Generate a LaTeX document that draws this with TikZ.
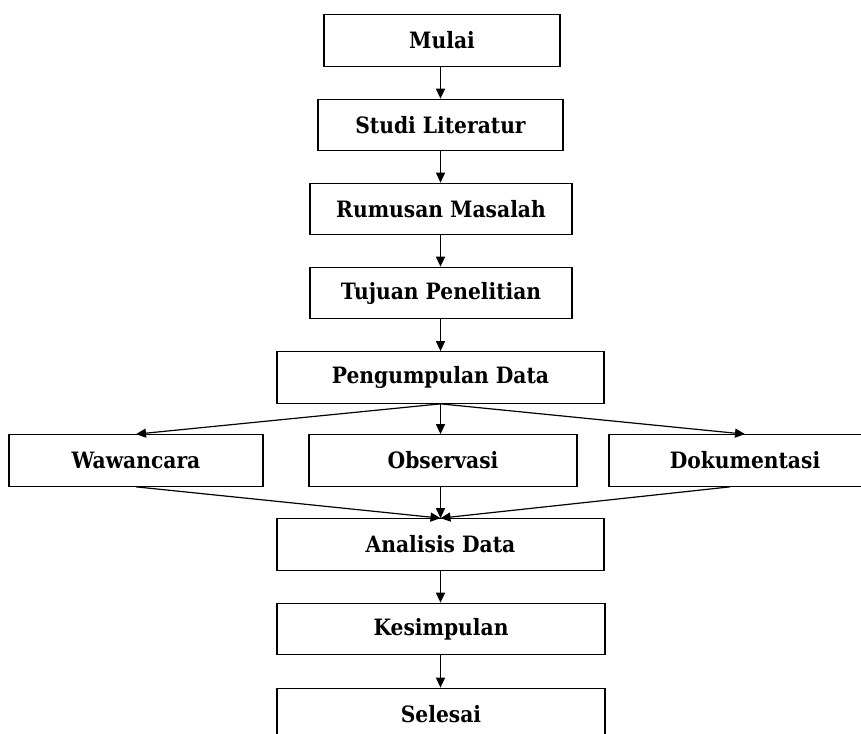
\documentclass[tikz,border=0pt]{standalone}
\usepackage{fontspec}
\newfontfamily\boxfont{DejaVu Serif}[FakeStretch=0.9]
\usetikzlibrary{arrows.meta,calc}
\begin{document}
\begin{tikzpicture}[x=1pt,y=-1pt,
  box/.style={draw, line width=1.2pt, inner sep=0pt, minimum height=51.5pt,
    font=\boxfont\bfseries\fontsize{22.5}{26}\selectfont},
  arr/.style={line width=1.2pt, -{Triangle[length=10pt,width=9pt]}},
  ln/.style={line width=1.2pt}]
\path[use as bounding box] (0,0) rectangle (861,733);
\begin{scope}
\clip (0,0) rectangle (861,733);
\node[box, minimum width=236pt] (mulai) at (442,40.5) {Mulai};
\node[box, minimum width=245pt] (studi) at (440.5,125) {Studi Literatur};
\node[box, minimum width=262pt] (rumusan) at (441,209) {Rumusan Masalah};
\node[box, minimum width=262pt] (tujuan) at (441,293) {Tujuan Penelitian};
\node[box, minimum width=327pt] (kumpul) at (440.5,377.5) {Pengumpulan Data};
\node[box, minimum width=254pt] (wawan) at (136,460.5) {Wawancara};
\node[box, minimum width=268pt] (obs) at (443,460.5) {Observasi};
\node[box, minimum width=272pt] (dok) at (745,460.5) {Dokumentasi};
\node[box, minimum width=327pt] (analisis) at (440.5,544.5) {Analisis Data};
\node[box, minimum width=328pt] (simpul) at (441,629) {Kesimpulan};
\node[box, minimum width=328pt] (selesai) at (441,714) {Selesai};

\coordinate (dokout) at ($(dok.south)+(-15,0)$);

\draw[arr] (studi.north |- mulai.south) -- (studi.north);
\draw[arr] (studi.south) -- (studi.south |- rumusan.north);
\draw[arr] (studi.south |- rumusan.south) -- (studi.south |- tujuan.north);
\draw[arr] (studi.south |- tujuan.south) -- (studi.south |- kumpul.north);
\draw[arr] (kumpul.south) -- (wawan.north);
\draw[arr] (kumpul.south) -- (kumpul.south |- obs.north);
\draw[arr] (kumpul.south) -- (dok.north);
\draw[arr] (wawan.south) -- (analisis.north);
\draw[arr] (kumpul.south |- obs.south) -- (analisis.north);
\draw[arr] (dokout) -- (analisis.north);
\draw[arr] (analisis.south) -- (analisis.south |- simpul.north);
\draw[arr] (analisis.south |- simpul.south) -- (analisis.south |- selesai.north);
\end{scope}
\end{tikzpicture}
\end{document}
